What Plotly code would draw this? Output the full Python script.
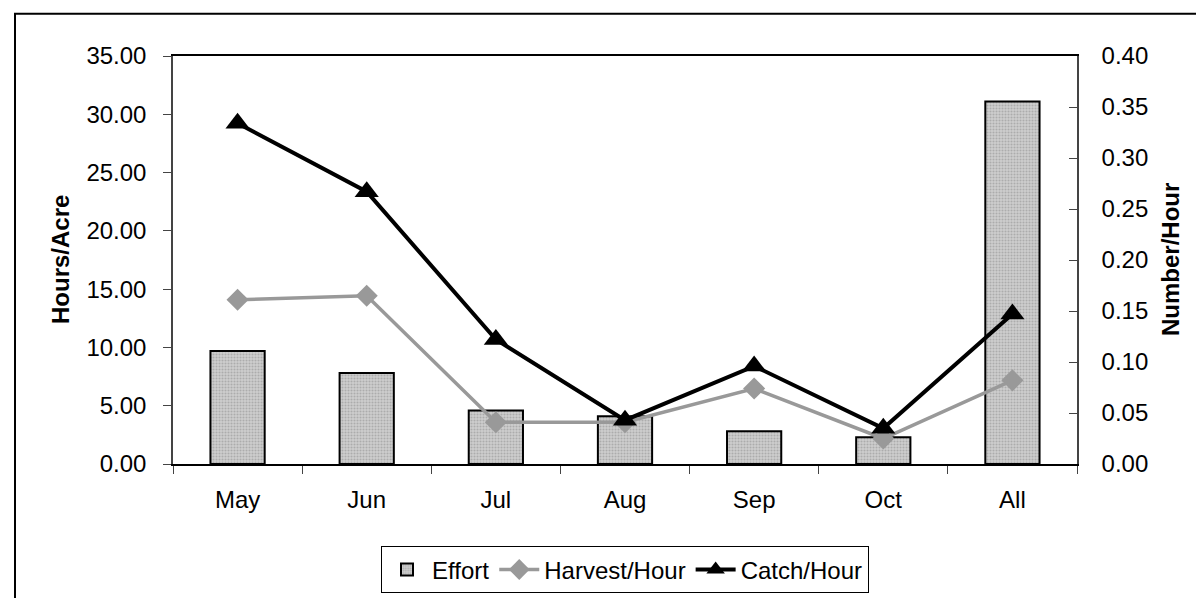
import plotly.graph_objects as go

months = ["May", "Jun", "Jul", "Aug", "Sep", "Oct", "All"]
effort = [9.7, 7.8, 4.6, 4.1, 2.8, 2.3, 31.1]
harvest_per_hour = [0.161, 0.165, 0.041, 0.041, 0.074, 0.025, 0.082]
catch_per_hour = [0.334, 0.267, 0.122, 0.043, 0.096, 0.035, 0.147]

left_ticks = [0, 5, 10, 15, 20, 25, 30, 35]
right_ticks = [0, 0.05, 0.10, 0.15, 0.20, 0.25, 0.30, 0.35, 0.40]

FONT = "Liberation Sans, Arial, sans-serif"
FS = 24

fig = go.Figure()
fig.add_trace(go.Bar(
    x=months, y=effort, name="Effort", width=0.42,
    marker=dict(color="#c0c0c0",
                line=dict(color="black", width=2),
                pattern=dict(shape=".", size=3, solidity=0.4,
                             fgcolor="#8a8a8a", bgcolor="#cfcfcf")),
    yaxis="y",
))
fig.add_trace(go.Scatter(
    x=months, y=harvest_per_hour, name="Harvest/Hour", mode="lines+markers",
    line=dict(color="#999999", width=3.5),
    marker=dict(symbol="diamond", size=17, color="#999999"),
    yaxis="y2",
))
fig.add_trace(go.Scatter(
    x=months, y=catch_per_hour, name="Catch/Hour", mode="lines+markers",
    line=dict(color="black", width=4),
    marker=dict(symbol="triangle-up", size=21, color="black"),
    yaxis="y2",
))

fig.update_layout(
    width=1204, height=598,
    margin=dict(l=165, r=135, t=48, b=135),
    paper_bgcolor="white", plot_bgcolor="white",
    font=dict(family=FONT, size=FS, color="black"),
    showlegend=True,
    legend=dict(orientation="h", x=0.5, xanchor="center", y=-0.202, yanchor="top",
                bordercolor="black", borderwidth=1, font=dict(size=FS),
                traceorder="normal", itemwidth=40),
    xaxis=dict(type="category", range=[-0.5, 6.5], showgrid=False, zeroline=False,
               showline=True, linecolor="black", linewidth=1.5, mirror=True,
               ticks="outside", tickson="boundaries", ticklen=8, tickcolor="#444",
               ticklabelstandoff=13),
    yaxis=dict(range=[0, 35], tickvals=left_ticks, tickformat=".2f",
               showgrid=False, zeroline=False, showline=True, linecolor="#444",
               linewidth=1.5, ticks="outside", ticklen=8, tickcolor="#444",
               ticklabelstandoff=12),
    yaxis2=dict(range=[0, 0.4], tickvals=right_ticks, tickformat=".2f",
                overlaying="y", side="right", showgrid=False, zeroline=False,
                showline=True, linecolor="#444", linewidth=1.5, ticks="inside",
                ticklen=8, tickcolor="#444", ticklabelstandoff=18),
    annotations=[
        dict(text="<b>Hours/Acre</b>", xref="paper", yref="paper",
             x=(52 - 165) / 904, y=0.5, textangle=-90, showarrow=False,
             xanchor="center", yanchor="middle", font=dict(size=FS)),
        dict(text="<b>Number/Hour</b>", xref="paper", yref="paper",
             x=(1162 - 165) / 904, y=0.5, textangle=-90, showarrow=False,
             xanchor="center", yanchor="middle", font=dict(size=FS)),
    ],
    shapes=[dict(type="rect", xref="paper", yref="paper",
                 x0=(7 - 165) / 904, x1=1.3, y0=-0.5, y1=(463 - 5) / 415,
                 line=dict(color="black", width=2), layer="below")],
)

fig.write_html("out.html")
